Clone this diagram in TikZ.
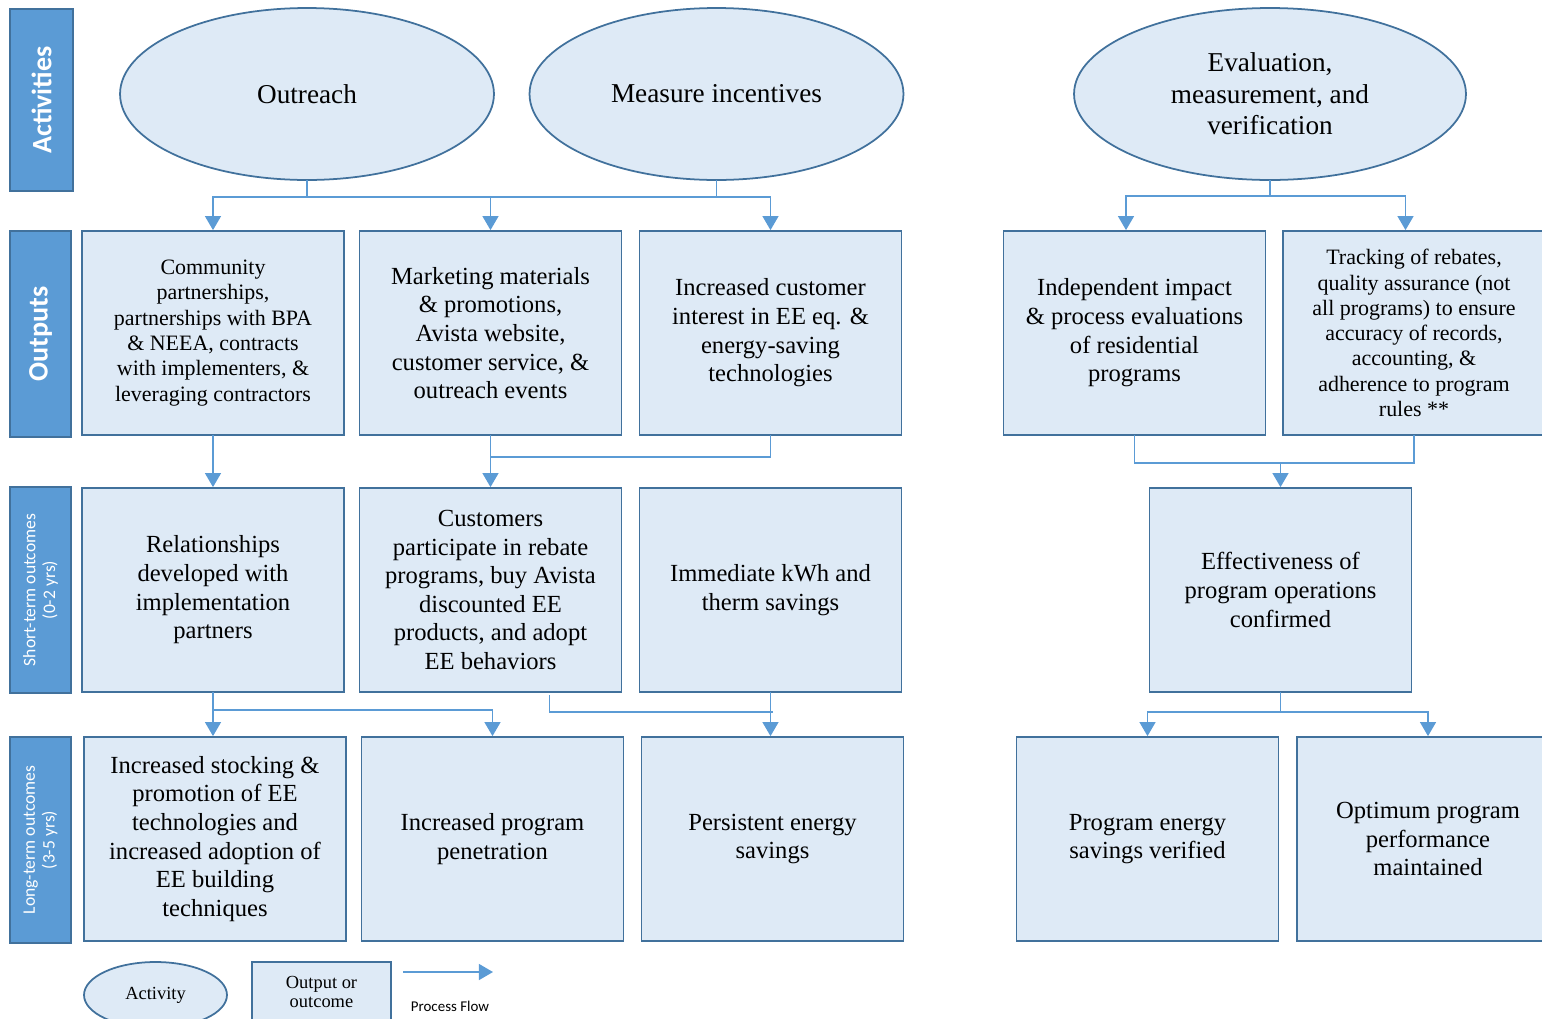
\documentclass[tikz,border=0pt]{standalone}
\usepackage{fontspec}
\setmainfont{Liberation Serif}
\newfontfamily\labelfont{Carlito}
\usepackage{tikz}
\usetikzlibrary{arrows.meta,shapes}
\usetikzlibrary{positioning}
\usetikzlibrary{calc}
\definecolor{boxfill}{HTML}{DEEAF6}
\definecolor{boxline}{HTML}{41719C}
\definecolor{flowblue}{HTML}{5B9BD5}
\tikzset{
	activity/.style={ellipse, draw=boxline, fill=boxfill, line width=1pt,
		minimum width=7.48cm, minimum height=3.44cm, inner sep=0pt, align=center,
		font=\fontsize{15.5}{17.9}\selectfont},
	outbox/.style={rectangle, draw=boxline, fill=boxfill, line width=1pt,
		minimum width=5.24cm, minimum height=4.08cm, inner sep=0pt, align=center,
		font=\fontsize{14}{16.3}\selectfont},
	smallbox/.style={outbox, font=\fontsize{12.5}{14.4}\selectfont},
	stage/.style={rectangle, draw=boxline, fill=flowblue, line width=1pt, rotate=90,
		minimum width=4.12cm, minimum height=1.22cm, inner sep=0pt, align=center, text=white,
		font=\labelfont\fontsize{10}{11.3}\selectfont},
	bigstage/.style={stage, font=\labelfont\bfseries\fontsize{16}{18}\selectfont},
	flowline/.style={draw=flowblue, line width=1.1pt, line cap=rect},
	flow/.style={flowline, -{Triangle[width=9pt,length=8pt]}},
	% legend
	legtext/.style={font=\fontsize{10.5}{11}\selectfont, align=center},
}

\begin{document}
\begin{tikzpicture}[x=0.02cm,y=-0.02cm]
\useasboundingbox (0,0) rectangle (1542,1018);
\clip (0,0) rectangle (1542,1018);

\node[bigstage, minimum width=3.64cm, minimum height=1.26cm] (stact) at (41.5,100) {Activities};
\node[bigstage] (stout) at (40.5,334) {Outputs};
\node[stage] (stshort) at (40.5,590) {Short-term outcomes\\(0-2 yrs)};
\node[stage] (stlong) at (40.5,840) {Long-term outcomes\\(3-5 yrs)};

\node[activity] (outreach) at (307,94) {Outreach};
\node[activity] (measure) at (716.5,94) {Measure incentives};
\node[activity, minimum width=7.84cm] (emv) at (1270,94) {Evaluation,\\measurement, and\\verification};

\node[smallbox] (comm) at (213,333) {Community\\partnerships,\\partnerships with BPA\\\& NEEA, contracts\\with implementers, \&\\leveraging contractors};
\node[outbox] (mkt) at (490.5,333) {Marketing materials\\\& promotions,\\Avista website,\\customer service, \&\\outreach events};
\node[outbox] (interest) at (770.5,333) {Increased customer\\interest in EE eq. \&\\energy-saving\\technologies};
\node[outbox] (impact) at (1134.5,333) {Independent impact\\\& process evaluations\\of residential\\programs};
\node[smallbox] (tracking) at (1414,333) {Tracking of rebates,\\quality assurance (not\\all programs) to ensure\\accuracy of records,\\accounting, \&\\adherence to program\\rules **};

\node[outbox] (rel) at (213,590) {Relationships\\developed with\\implementation\\partners};
\node[outbox] (cust) at (490.5,590) {Customers\\participate in rebate\\programs, buy Avista\\discounted EE\\products, and adopt\\EE behaviors};
\node[outbox] (imm) at (770.5,590) {Immediate kWh and\\therm savings};
\node[outbox] (effect) at (1280.5,590) {Effectiveness of\\program operations\\confirmed};

\node[outbox] (stocking) at (215,839) {Increased stocking \&\\promotion of EE\\technologies and\\increased adoption of\\EE building\\techniques};
\node[outbox] (penetr) at (492.5,839) {Increased program\\penetration};
\node[outbox] (persist) at (772.5,839) {Persistent energy\\savings};
\node[outbox] (verified) at (1147.5,839) {Program energy\\savings verified};
\node[outbox] (optimum) at (1428,839) {Optimum program\\performance\\maintained};

\coordinate (topbus) at (0,197);
\coordinate (emvbus) at (0,196);
\coordinate (midbus) at (0,457);
\coordinate (emvmid) at (0,463);
\coordinate (lowbusA) at (0,710);
\coordinate (lowbusB) at (0,712);

\draw[flowline] (outreach.south) -- (outreach.south |- topbus);
\draw[flowline] (measure.south) -- (measure.south |- topbus);
\draw[flowline] (comm.north |- topbus) -- (interest.north |- topbus);
\foreach \n in {comm,mkt,interest}
	\draw[flow] (\n.north |- topbus) -- (\n.north);

\draw[flowline] (emv.south) -- (emv.south |- emvbus);
\draw[flowline] ([xshift=-0.17cm]impact.north |- emvbus) -- ([xshift=-0.17cm]tracking.north |- emvbus);
\foreach \n in {impact,tracking}
	\draw[flow] ([xshift=-0.17cm]\n.north |- emvbus) -- ([xshift=-0.17cm]\n.north);

\draw[flow] (comm.south) -- (rel.north);
\draw[flow] (mkt.south) -- (cust.north);
\draw[flowline] (interest.south) |- (mkt.south |- midbus);
\draw[flowline] (impact.south) -- (impact.south |- emvmid) -- (tracking.south |- emvmid) -- (tracking.south);
\draw[flow] (effect.north |- emvmid) -- (effect.north);

\draw[flow] (rel.south) -- (rel.south |- stocking.north);
\draw[flow] (rel.south |- lowbusA) -| (penetr.north);
\draw[flowline] ($(cust.south)+(59,3)$) |- (persist.north |- lowbusB);
\draw[flow] (imm.south) -- (imm.south |- persist.north);
\draw[flowline] (effect.south) -- (effect.south |- lowbusB);
\draw[flowline] (verified.north |- lowbusB) -- (optimum.north |- lowbusB);
\foreach \n in {verified,optimum}
	\draw[flow] (\n.north |- lowbusB) -- (\n.north);

\node[activity, minimum width=2.86cm, minimum height=1.32cm, font=\fontsize{10.5}{11}\selectfont] (legact) at (155.5,995) {Activity};
\node[outbox, minimum width=2.78cm, minimum height=1.2cm, font=\fontsize{10.5}{10.8}\selectfont] (legbox) at (321.5,992) {Output or\\outcome};
\coordinate (flowstart) at (404,972);
\coordinate (flowend) at (493,972);
\draw[flow] (flowstart) -- (flowend);
\node[font=\labelfont\fontsize{8.5}{10}\selectfont] (legflow) at (450,1006) {Process Flow};

\end{tikzpicture}
\end{document}
